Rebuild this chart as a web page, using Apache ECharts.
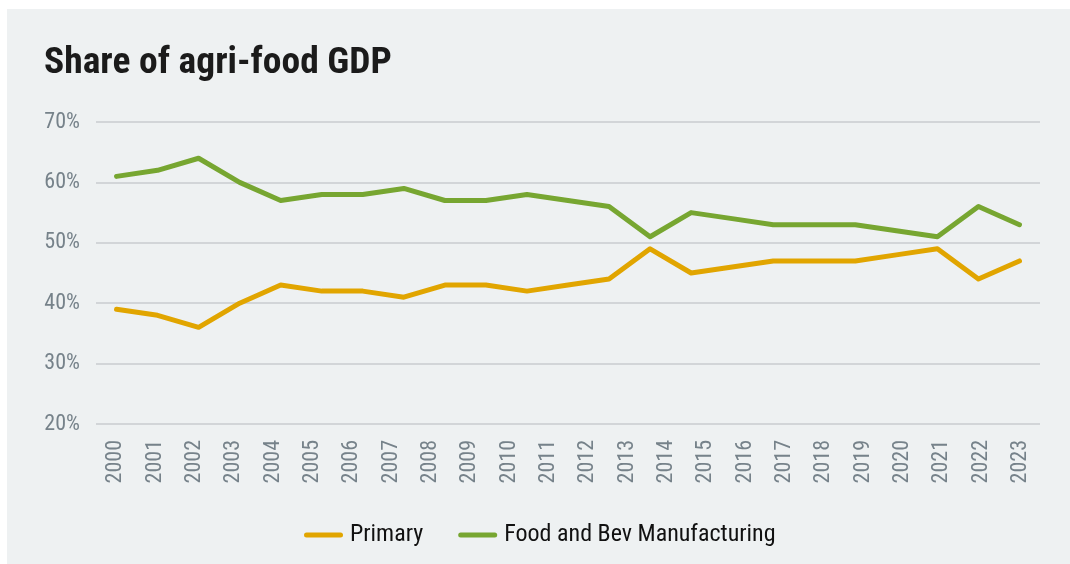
<!DOCTYPE html>
<html>
<head>
<meta charset="utf-8">
<script src="https://cdn.jsdelivr.net/npm/echarts@6/dist/echarts.min.js"></script>
<style>
  html, body { margin: 0; padding: 0; background: #ffffff; }
  #chart { width: 1070px; height: 564px; }
</style>
</head>
<body>
<div id="chart"></div>
<script>
// Axis tick labels (24 years)
var years = ['2000','2001','2002','2003','2004','2005','2006','2007','2008','2009','2010','2011',
             '2012','2013','2014','2015','2016','2017','2018','2019','2020','2021','2022','2023'];
// The plotted lines have 23 points spread evenly across the same width
var linePoints = ['p1','p2','p3','p4','p5','p6','p7','p8','p9','p10','p11','p12',
                  'p13','p14','p15','p16','p17','p18','p19','p20','p21','p22','p23'];
var primary = [39,38,36,40,43,42,42,41,43,43,42,43,44,49,45,46,47,47,47,48,49,44,47];
var foodBev = [61,62,64,60,57,58,58,59,57,57,58,57,56,51,55,54,53,53,53,52,51,56,53];
var yTicks = [20,30,40,50,60,70];

var FONT = "'Roboto Condensed', 'Liberation Sans Narrow', 'Arial Narrow', Roboto, sans-serif";
var ORANGE = '#e1a500';
var GREEN = '#77a631';
var LABEL = '#76828a';

var chart = echarts.init(document.getElementById('chart'), null, { renderer: 'canvas' });
chart.setOption({
  backgroundColor: '#ffffff',
  animation: false,
  graphic: [{
    type: 'rect', z: -10, silent: true,
    shape: { x: 7, y: 9, width: 1070, height: 564 },
    style: { fill: '#eef1f2' }
  }],
  title: {
    text: 'Share of agri-food GDP',
    left: 39, top: 40,
    textStyle: { fontFamily: FONT, fontSize: 37.5, fontWeight: 'bold', color: '#1b1b1b' }
  },
  legend: {
    left: 299, top: 518,
    itemWidth: 39, itemHeight: 5, itemGap: 35,
    icon: 'path://M2.5,0 L36.5,0 A2.5,2.5 0 0 1 36.5,5 L2.5,5 A2.5,2.5 0 0 1 2.5,0 Z',
    textStyle: { fontFamily: FONT, fontSize: 24, color: '#111111', padding: [0, 0, 0, 2] },
    data: ['Primary', 'Food and Bev Manufacturing']
  },
  grid: { left: 96, right: 30, top: 122, bottom: 140, containLabel: false },
  xAxis: [{
    type: 'category',
    data: years,
    boundaryGap: true,
    axisLine: { show: false },
    axisTick: { show: false },
    axisLabel: { rotate: 90, margin: 16, fontFamily: FONT, fontSize: 22, color: LABEL, interval: 0 }
  }, {
    type: 'category',
    data: linePoints,
    boundaryGap: true,
    show: false
  }],
  yAxis: {
    type: 'value',
    min: yTicks[0], max: yTicks[yTicks.length - 1], interval: 10,
    axisLine: { show: false },
    axisTick: { show: false },
    axisLabel: { formatter: '{value}%', margin: 16, fontFamily: FONT, fontSize: 22, color: LABEL },
    splitLine: { lineStyle: { color: '#d2d5d8', width: 2 } }
  },
  series: [{
    name: 'Primary', type: 'line', xAxisIndex: 1,
    data: primary, showSymbol: false, symbol: 'none',
    itemStyle: { color: ORANGE },
    lineStyle: { color: ORANGE, width: 5, cap: 'round', join: 'round' }
  }, {
    name: 'Food and Bev Manufacturing', type: 'line', xAxisIndex: 1,
    data: foodBev, showSymbol: false, symbol: 'none',
    itemStyle: { color: GREEN },
    lineStyle: { color: GREEN, width: 5, cap: 'round', join: 'round' }
  }]
});
</script>
</body>
</html>
